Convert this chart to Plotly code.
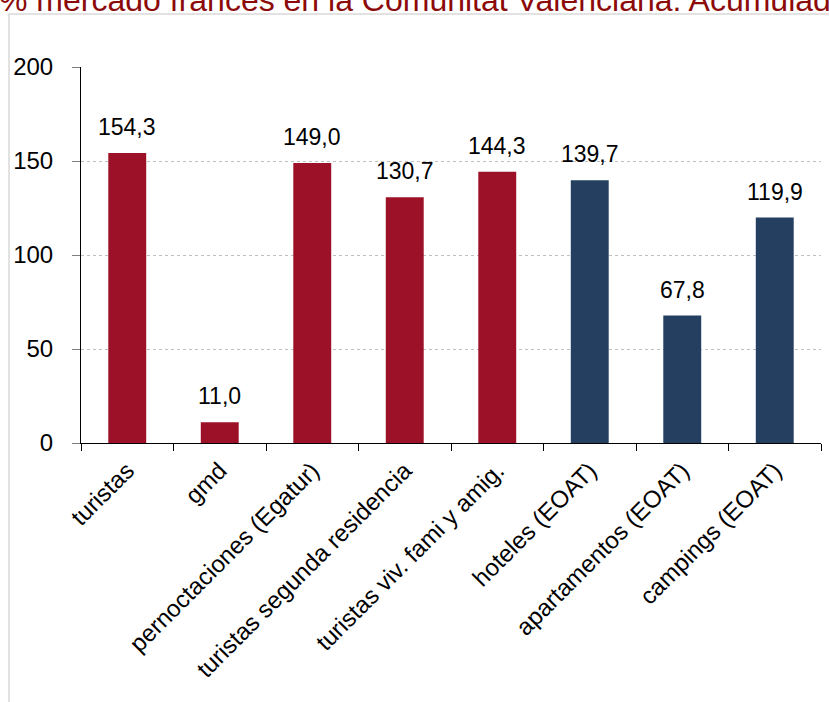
import plotly.graph_objects as go

# datos: % mercado francés en la Comunitat Valenciana (acumulado)
categorias = ["turistas", "gmd", "pernoctaciones (Egatur)", "turistas segunda residencia",
              "turistas viv. fami y amig.", "hoteles (EOAT)", "apartamentos (EOAT)", "campings (EOAT)"]
valores = [154.3, 11.0, 149.0, 130.7, 144.3, 139.7, 67.8, 119.9]
fuente = ["Frontur/Egatur"] * 5 + ["EOAT"] * 3
y_ticks = [0, 50, 100, 150, 200]

titulo = "% mercado francés en la Comunitat Valenciana. Acumulado"

ROJO = "#9C1127"
AZUL = "#243F60"
FONT = "Liberation Sans, Arial, sans-serif"

colores = [ROJO if f == "Frontur/Egatur" else AZUL for f in fuente]

fig = go.Figure(go.Bar(x=categorias, y=valores, marker_color=colores,
                       marker_line_width=0, width=0.41))

# etiquetas de valor sobre las barras
for c, v in zip(categorias, valores):
    fig.add_annotation(x=c, y=v, text=f"{v:.1f}".replace(".", ","),
                       showarrow=False, yanchor="bottom", yshift=11,
                       font=dict(size=23, color="#000000", family=FONT))

# titulo (cortado en la parte superior, como en el original)
fig.add_annotation(xref="paper", yref="paper", x=-0.113, y=1.124,
                   xanchor="left", yanchor="bottom", showarrow=False,
                   text=titulo, font=dict(size=32, color="#8C0A0A", family=FONT))

# marco gris
fig.add_shape(type="rect", xref="paper", yref="paper",
              x0=-0.0973, x1=1.03, y0=-0.75, y1=1.141,
              line=dict(color="#D9D9D9", width=1.5), layer="below")

fig.update_layout(
    width=829, height=702,
    margin=dict(l=81, r=8, t=67, b=259),
    plot_bgcolor="white", paper_bgcolor="white",
    showlegend=False,
    separators=",.",
    font=dict(family=FONT, size=22, color="#000000"),
)
fig.update_xaxes(showline=True, linecolor="#000000", linewidth=1, automargin=False,
                 ticks="outside", tickson="boundaries", ticklen=7, tickcolor="#000000",
                 tickangle=-45, tickfont=dict(size=24), ticklabelstandoff=3, showgrid=False)
fig.update_yaxes(range=[0, 200], tickvals=y_ticks, showline=True, linecolor="#000000",
                 linewidth=1, ticks="outside", ticklen=8, tickcolor="#808080", automargin=False,
                 ticklabelstandoff=14, showgrid=True, gridcolor="#BFBFBF",
                 griddash="dot", gridwidth=1, zeroline=False, tickfont=dict(size=24))

# sin margen del body para que la figura empiece en (0, 0)
fig.write_html("out.html", config={"displayModeBar": False},
               post_script="document.body.style.margin='0';")
